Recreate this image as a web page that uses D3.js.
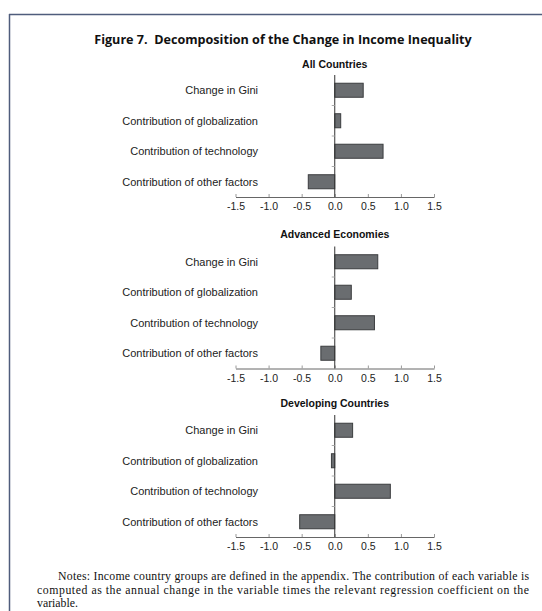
<!DOCTYPE html>
<html>
<head>
<meta charset="utf-8">
<script src="https://cdn.jsdelivr.net/npm/d3@7"></script>
<style>
  html, body { margin: 0; padding: 0; background: #fff; }
  svg { display: block; }
</style>
</head>
<body>
<svg id="chart" width="542" height="611"></svg>
<script>
// Decomposition of the change in income inequality, three country groups
const categories = [
  "Change in Gini",
  "Contribution of globalization",
  "Contribution of technology",
  "Contribution of other factors"
];
const groups = ["All Countries", "Advanced Economies", "Developing Countries"];
const allCountries = [0.43, 0.09, 0.73, -0.40];
const advancedEconomies = [0.65, 0.25, 0.60, -0.21];
const developingCountries = [0.27, -0.05, 0.84, -0.53];
const tickValues = [-1.5, -1.0, -0.5, 0.0, 0.5, 1.0, 1.5];

const title = "Figure 7.\u00a0 Decomposition of the Change in Income Inequality";
const notes = [
  "Notes: Income country groups are defined in the appendix. The contribution of each variable is",
  "computed as the annual change in the variable times the relevant regression coefficient on the",
  "variable."
];

const series = [allCountries, advancedEconomies, developingCountries];

const svg = d3.select("#chart");

// frame: top rule and left rule
svg.append("line").attr("x1", 9).attr("x2", 542).attr("y1", 14.5).attr("y2", 14.5)
  .attr("stroke", "#4f5d7c").attr("stroke-width", 1.5);
svg.append("line").attr("x1", 9.5).attr("x2", 9.5).attr("y1", 14).attr("y2", 611)
  .attr("stroke", "#4f5d7c").attr("stroke-width", 1.5);

svg.append("text")
  .attr("x", 283).attr("y", 44)
  .attr("text-anchor", "middle")
  .attr("font-family", "Open Sans, sans-serif")
  .attr("font-weight", "bold")
  .attr("font-size", 12.6)
  .attr("fill", "#111")
  .text(title);

const x = d3.scaleLinear().domain([-1.5, 1.5]).range([235.5, 434]);
const fmt = d => d3.format(".1f")(d).replace("\u2212", "-");

const panelTops = [75, 246.5, 415];
const panelTitleY = [67.5, 238, 406.5];

groups.forEach((name, gi) => {
  const top = panelTops[gi];
  const y = d3.scaleBand().domain(categories).range([top, top + 122]).paddingInner(0.54).paddingOuter(0.27);
  const g = svg.append("g");

  g.append("text")
    .attr("x", x(0)).attr("y", panelTitleY[gi])
    .attr("text-anchor", "middle")
    .attr("font-family", "Liberation Sans, Arial, sans-serif")
    .attr("font-weight", "bold")
    .attr("font-size", 10.5)
    .attr("fill", "#111")
    .text(name);

  // bars
  g.selectAll("rect").data(series[gi]).join("rect")
    .attr("x", d => x(Math.min(0, d)))
    .attr("width", d => Math.abs(x(d) - x(0)))
    .attr("y", (d, i) => y(categories[i]))
    .attr("height", y.bandwidth())
    .attr("fill", "#6a6d70")
    .attr("stroke", "#3b3d3f")
    .attr("stroke-width", 1);

  // x axis
  const xa = g.append("g")
    .attr("transform", `translate(0,${top + 122})`)
    .call(d3.axisBottom(x).tickValues(tickValues).tickFormat(fmt).tickSize(-3).tickSizeOuter(0).tickPadding(6));
  xa.select(".domain").attr("stroke", "#666");
  xa.selectAll(".tick line").attr("stroke", "#999");
  xa.selectAll(".tick text")
    .attr("font-family", "Liberation Sans, Arial, sans-serif")
    .attr("font-size", 10.5)
    .attr("fill", "#222");

  // vertical zero axis with small ticks between categories
  g.append("line")
    .attr("x1", x(0)).attr("x2", x(0))
    .attr("y1", top).attr("y2", top + 122)
    .attr("stroke", "#333").attr("stroke-width", 1);
  [1, 2, 3].forEach(k => {
    g.append("line")
      .attr("x1", x(0) - 3).attr("x2", x(0))
      .attr("y1", top + k * 122 / 4).attr("y2", top + k * 122 / 4)
      .attr("stroke", "#aaa");
  });

  // category labels
  g.selectAll("text.cat").data(categories).join("text")
    .attr("class", "cat")
    .attr("x", 258)
    .attr("y", d => y(d) + y.bandwidth() / 2)
    .attr("dy", "0.35em")
    .attr("text-anchor", "end")
    .attr("font-family", "Liberation Sans, Arial, sans-serif")
    .attr("font-size", 11)
    .attr("fill", "#222")
    .text(d => d);
});

// notes, justified serif text
const noteX = [58, 37, 37];
const noteY = [580, 593.5, 607];
notes.forEach((line, i) => {
  const t = svg.append("text")
    .attr("x", noteX[i]).attr("y", noteY[i])
    .attr("font-family", "Liberation Serif, Times New Roman, serif")
    .attr("font-size", 11.8)
    .attr("fill", "#111")
    .text(line);
  if (i < 2) t.attr("textLength", 529 - noteX[i]).attr("lengthAdjust", "spacing");
});
</script>
</body>
</html>
